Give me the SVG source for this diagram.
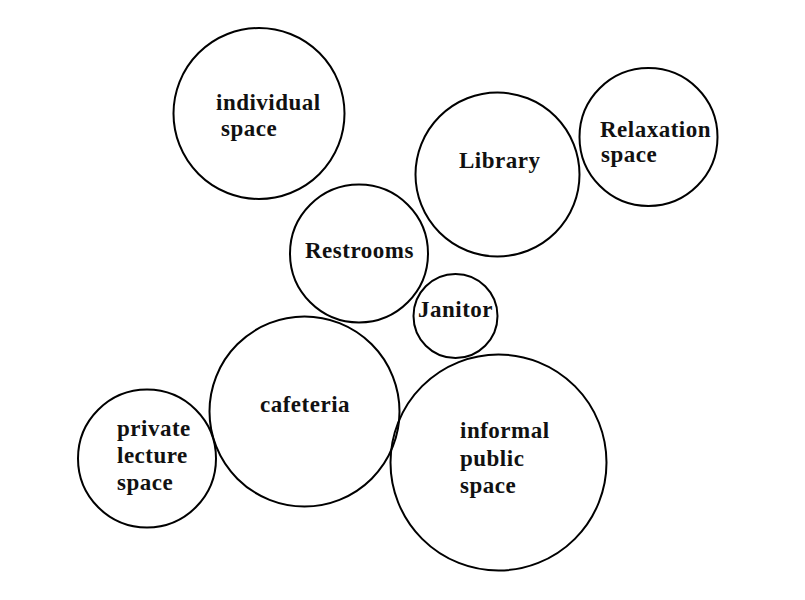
<svg xmlns="http://www.w3.org/2000/svg" width="805" height="600" viewBox="0 0 805 600">
<style>
.c{fill:none;stroke:#000;stroke-width:2}
.t{font-family:"Liberation Serif","Times New Roman",serif;font-weight:bold;font-size:23px;fill:#111;letter-spacing:0.5px}
</style>
<rect width="805" height="600" fill="#fff"/>
<g id="connectors"></g>
<g id="individual-space">
<circle class="c" cx="259" cy="113.5" r="85.5"/>
<text class="t" x="216" y="110">individual</text>
<text class="t" x="221" y="136">space</text>
</g>
<g id="library">
<circle class="c" cx="497.5" cy="174.5" r="82"/>
<text class="t" x="459" y="167.5">Library</text>
</g>
<g id="relaxation-space">
<circle class="c" cx="648.5" cy="137" r="69"/>
<text class="t" x="600" y="136.5">Relaxation</text>
<text class="t" x="601" y="162">space</text>
</g>
<g id="restrooms">
<circle class="c" cx="359" cy="253.5" r="69"/>
<text class="t" x="305" y="257.5">Restrooms</text>
</g>
<g id="janitor">
<circle class="c" cx="455.5" cy="316" r="42"/>
<text class="t" x="418" y="316.5">Janitor</text>
</g>
<g id="cafeteria">
<circle class="c" cx="304.5" cy="411.5" r="95"/>
<text class="t" x="260" y="411.5">cafeteria</text>
</g>
<g id="private-lecture-space">
<circle class="c" cx="147" cy="458.5" r="69"/>
<text class="t" x="117" y="436">private</text>
<text class="t" x="117" y="463">lecture</text>
<text class="t" x="117" y="490">space</text>
</g>
<g id="informal-public-space">
<circle class="c" cx="498.5" cy="462.5" r="108"/>
<text class="t" x="460" y="438">informal</text>
<text class="t" x="460" y="465.5">public</text>
<text class="t" x="460" y="492.5">space</text>
</g>
</svg>
